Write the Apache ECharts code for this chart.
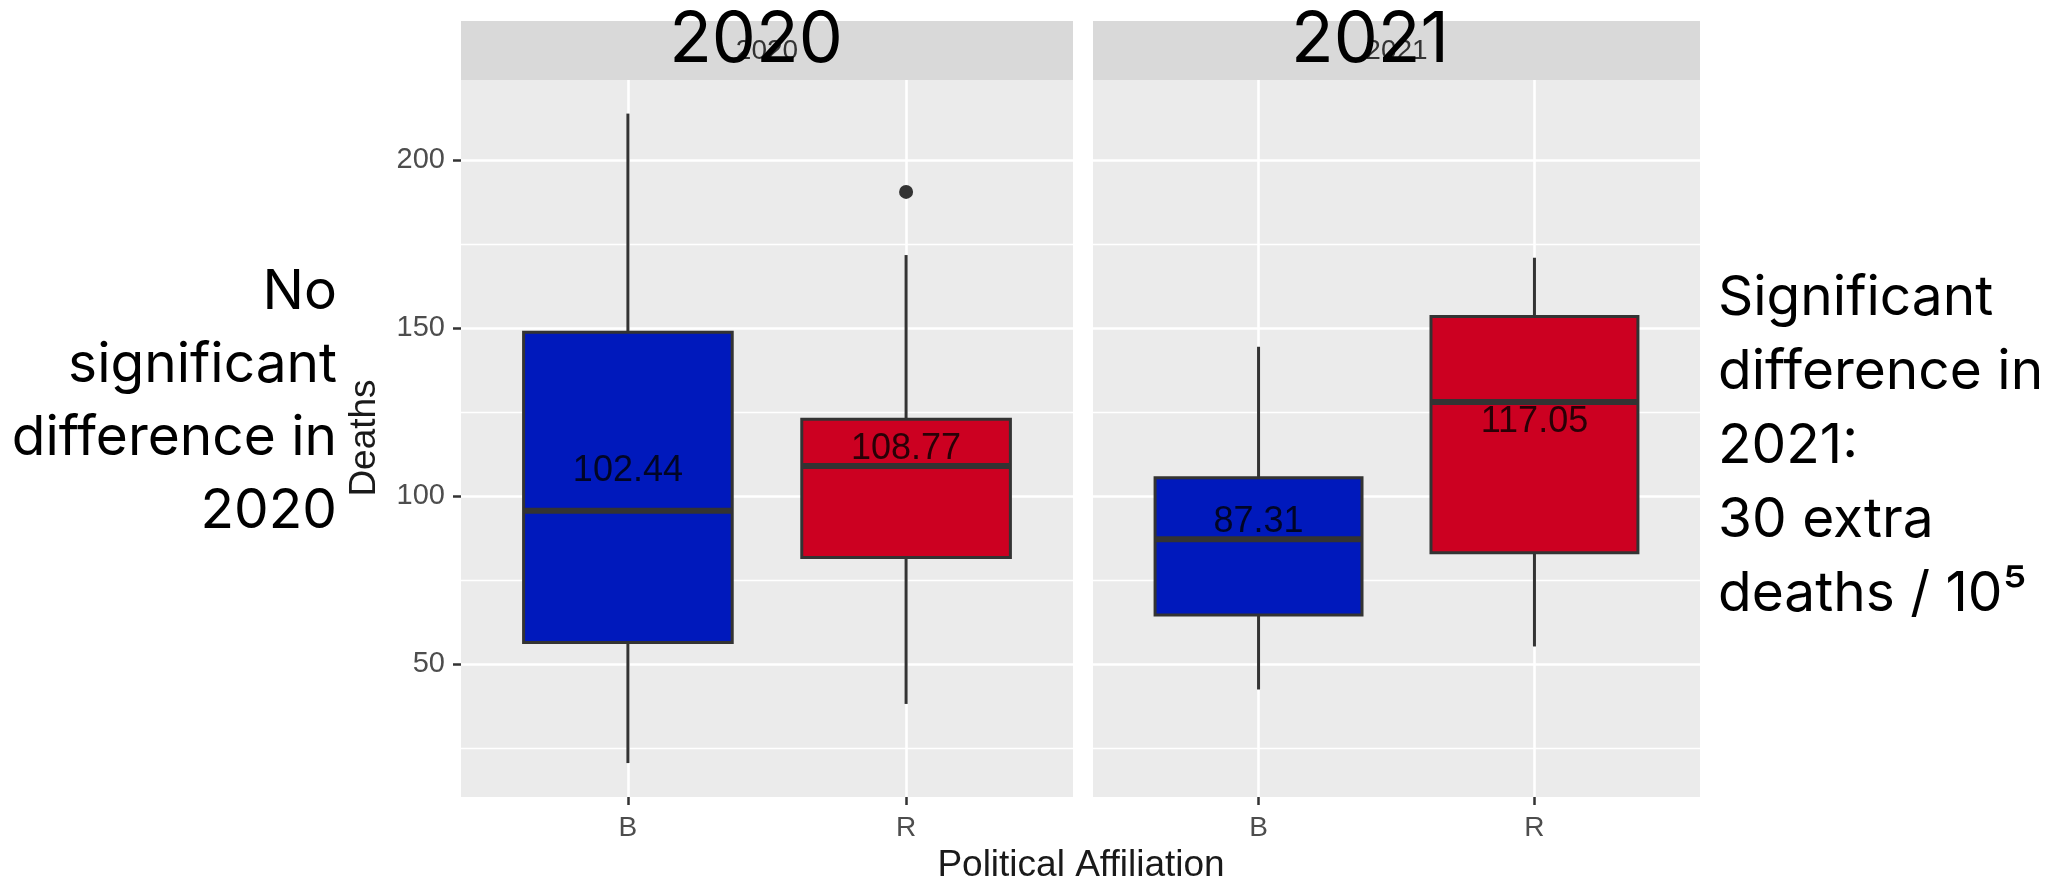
<!DOCTYPE html>
<html>
<head>
<meta charset="utf-8">
<title>Deaths by Political Affiliation</title>
<script src="https://cdn.jsdelivr.net/npm/echarts@6/dist/echarts.min.js"></script>
<style>
    html, body { margin: 0; padding: 0; background: #fff; }
    #chart { width: 2051px; height: 882px; }
</style>
</head>
<body>
<div id="chart"></div>
<script>
// categories
const years = ['2020', '2021'];
const parties = ['B', 'R'];
const partyPos = [1, 2];
// boxes: [lower whisker, Q1, median, Q3, upper whisker]
const box2020 = [[20.5, 56.4, 95.6, 148.7, 213.8], [38.1, 81.7, 108.9, 122.8, 171.7]];
const box2021 = [[42.4, 64.6, 87.1, 105.4, 144.4], [55.2, 83.1, 128.0, 153.4, 170.9]];
// mean labels
const means2020 = [102.44, 108.77];
const means2021 = [87.31, 117.05];
// outliers: [party position, value]
const outliers2020 = [[2, 190.5]];
const outliers2021 = [];
// y ticks
const yTicks = [50, 100, 150, 200];
const yMinorTicks = [25, 75, 125, 175];

const fillColors = ['#0019BC', '#CC0021'];
const BOX_WIDTH = 0.75;
const GG_FONT = 'Liberation Sans, Arial, sans-serif';
const NOTE_FONT = 'Inter, Noto Sans, sans-serif';

const panels = [
    { left: 461, width: 612 },
    { left: 1093, width: 607 }
];
const PANEL_TOP = 80;
const PANEL_HEIGHT = 717;

function renderBox(params, api) {
    const x = api.value(0);
    const halfW = api.size([BOX_WIDTH, 0])[0] / 2;
    const lo = api.coord([x, api.value(1)]);
    const q1 = api.coord([x, api.value(2)]);
    const med = api.coord([x, api.value(3)]);
    const q3 = api.coord([x, api.value(4)]);
    const hi = api.coord([x, api.value(5)]);
    const edge = { stroke: '#333333', lineWidth: 3 };
    return {
        type: 'group',
        children: [
            { type: 'line', shape: { x1: hi[0], y1: hi[1], x2: q3[0], y2: q3[1] }, style: edge },
            { type: 'line', shape: { x1: q1[0], y1: q1[1], x2: lo[0], y2: lo[1] }, style: edge },
            {
                type: 'rect',
                shape: { x: q3[0] - halfW, y: q3[1], width: halfW * 2, height: q1[1] - q3[1] },
                style: { fill: fillColors[params.dataIndex], stroke: '#333333', lineWidth: 3 }
            },
            {
                type: 'line',
                shape: { x1: med[0] - halfW, y1: med[1], x2: med[0] + halfW, y2: med[1] },
                style: { stroke: '#333333', lineWidth: 6 }
            }
        ]
    };
}

const boxes = [box2020, box2021];
const means = [means2020, means2021];
const outliers = [outliers2020, outliers2021];

const grid = [];
const xAxis = [];
const yAxis = [];
const series = [];
const graphic = [];

panels.forEach(function (p, i) {
    grid.push({
        left: p.left, width: p.width, top: PANEL_TOP, height: PANEL_HEIGHT,
        show: true, backgroundColor: '#EBEBEB', borderWidth: 0
    });
    xAxis.push({
        type: 'value', gridIndex: i, min: 0.4, max: 2.6,
        axisLine: { show: false },
        axisTick: { customValues: partyPos, length: 8, lineStyle: { color: '#333333', width: 2.5 } },
        axisLabel: {
            customValues: partyPos,
            formatter: function (v) { return parties[partyPos.indexOf(v)]; },
            fontSize: 28, color: '#4D4D4D', fontFamily: GG_FONT, margin: 17
        },
        splitLine: { show: true, lineStyle: { color: '#FFFFFF', width: 2.6 } }
    });
    // major grid + labels
    yAxis.push({
        type: 'value', gridIndex: i, min: 10.4, max: 223.8,
        axisLine: { show: false },
        axisTick: { show: i === 0, customValues: yTicks, length: 8, lineStyle: { color: '#333333', width: 2.5 } },
        axisLabel: {
            show: i === 0, customValues: yTicks,
            fontSize: 29, color: '#4D4D4D', fontFamily: GG_FONT, margin: 16
        },
        splitLine: { show: true, lineStyle: { color: '#FFFFFF', width: 2.6 } }
    });
    // minor grid
    yAxis.push({
        type: 'value', gridIndex: i, min: 10.4, max: 223.8,
        axisLine: { show: false },
        axisTick: { show: false, customValues: yMinorTicks },
        axisLabel: { show: false, customValues: yMinorTicks },
        splitLine: { show: true, lineStyle: { color: '#FFFFFF', width: 1.3 } }
    });

    series.push({
        type: 'custom',
        xAxisIndex: i,
        yAxisIndex: i * 2,
        z: 2,
        renderItem: renderBox,
        encode: { x: 0, y: [1, 2, 3, 4, 5] },
        data: boxes[i].map(function (b, k) { return [partyPos[k]].concat(b); })
    });
    series.push({
        type: 'scatter',
        xAxisIndex: i,
        yAxisIndex: i * 2,
        z: 3,
        symbolSize: 14,
        itemStyle: { color: '#333333', opacity: 1 },
        data: outliers[i]
    });
    series.push({
        type: 'scatter',
        xAxisIndex: i,
        yAxisIndex: i * 2,
        z: 4,
        symbolSize: 0,
        data: means[i].map(function (m, k) { return [partyPos[k], m]; }),
        label: {
            show: true,
            position: 'inside',
            offset: [0, -17],
            formatter: function (p) { return p.value[1].toFixed(2); },
            fontSize: 36, color: '#000000', fontFamily: GG_FONT
        }
    });

    // facet strip
    graphic.push({
        type: 'rect', z: 1,
        shape: { x: p.left, y: 21, width: p.width, height: 59 },
        style: { fill: '#D9D9D9' }
    });
    graphic.push({
        type: 'text', z: 2, x: p.left + p.width / 2, y: 51,
        style: {
            text: years[i], align: 'center', verticalAlign: 'middle',
            fontSize: 28, fontFamily: GG_FONT, fill: '#333333'
        }
    });
});

// big year headings
graphic.push({
    type: 'text', z: 3, x: 756, y: 41,
    style: { text: years[0], align: 'center', verticalAlign: 'middle', fontSize: 70, fontFamily: NOTE_FONT, fill: '#000' }
});
graphic.push({
    type: 'text', z: 3, x: 1370, y: 41,
    style: { text: years[1], align: 'center', verticalAlign: 'middle', fontSize: 70, fontFamily: NOTE_FONT, fill: '#000' }
});
// axis titles
graphic.push({
    type: 'text', z: 3, x: 1081, y: 866,
    style: { text: 'Political Affiliation', align: 'center', verticalAlign: 'middle', fontSize: 37, fontFamily: GG_FONT, fill: '#1A1A1A' }
});
graphic.push({
    type: 'text', z: 3, x: 365, y: 438, rotation: Math.PI / 2,
    style: { text: 'Deaths', align: 'center', verticalAlign: 'middle', fontSize: 37, fontFamily: GG_FONT, fill: '#1A1A1A' }
});
// side notes
graphic.push({
    type: 'text', z: 3, x: 337, y: 256,
    style: {
        text: 'No\nsignificant\ndifference in\n2020',
        align: 'right', verticalAlign: 'top', fontSize: 55, lineHeight: 73, fontFamily: NOTE_FONT, fill: '#000'
    }
});
graphic.push({
    type: 'text', z: 3, x: 1718, y: 261,
    style: {
        text: 'Significant\ndifference in\n2021:\n30 extra\ndeaths / 10\u2075',
        align: 'left', verticalAlign: 'top', fontSize: 55, lineHeight: 74, fontFamily: NOTE_FONT, fill: '#000'
    }
});

const myChart = echarts.init(document.getElementById('chart'));
myChart.setOption({
    animation: false,
    backgroundColor: '#FFFFFF',
    grid: grid,
    xAxis: xAxis,
    yAxis: yAxis,
    series: series,
    graphic: graphic
});
</script>
</body>
</html>
